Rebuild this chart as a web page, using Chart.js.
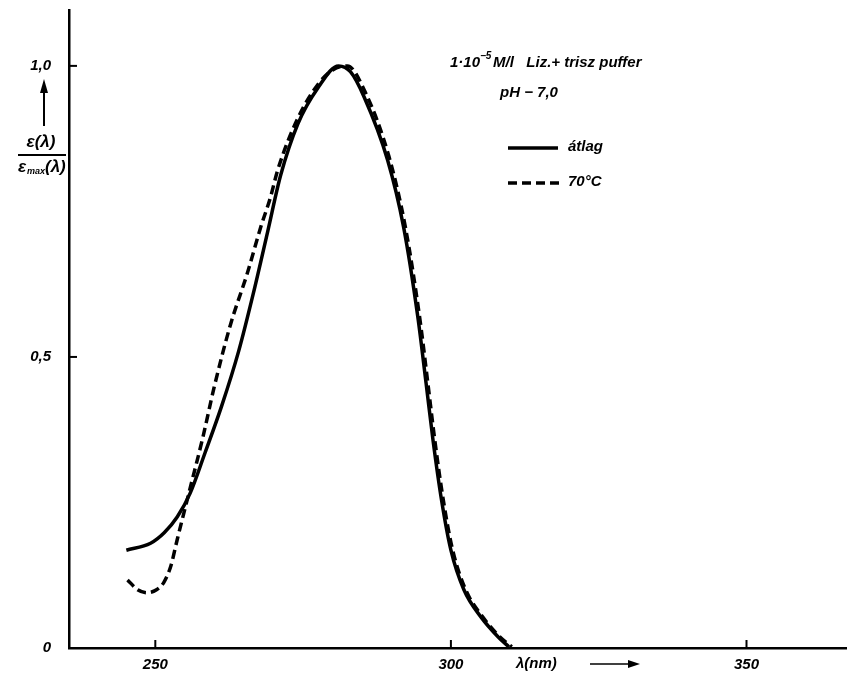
<!DOCTYPE html>
<html>
<head>
<meta charset="utf-8">
<script src="https://cdn.jsdelivr.net/npm/chart.js@4.4.1/dist/chart.umd.min.js"></script>
<style>
  html, body { margin: 0; padding: 0; background: #fff; }
  #wrap { width: 847px; height: 684px; }
</style>
</head>
<body>
<div id="wrap"><canvas id="spectrum"></canvas></div>
<script>
// átlag (solid)
const avgWavelengths = [245.1, 249.2, 251.5, 253.7, 255.9, 258.4, 261.2, 264.1, 266.6, 269.0, 271.2, 274.1, 277.5, 281.0, 283.0, 285.3, 289.3, 292.0, 294.4, 295.8, 297.0, 298.4, 300.0, 302.2, 305.1, 308.0, 309.8];
const avgValues = [0.168, 0.180, 0.198, 0.225, 0.266, 0.335, 0.415, 0.510, 0.610, 0.715, 0.812, 0.900, 0.962, 1.000, 0.990, 0.947, 0.838, 0.723, 0.569, 0.455, 0.355, 0.255, 0.168, 0.100, 0.053, 0.019, 0.002];

// 70 °C (dashed)
const hotWavelengths = [245.3, 247.0, 248.6, 250.2, 251.4, 252.6, 253.7, 255.9, 258.0, 260.0, 262.7, 265.6, 267.8, 269.5, 270.7, 274.1, 277.5, 280.0, 282.5, 285.5, 289.5, 292.3, 294.7, 296.1, 297.3, 298.7, 300.3, 302.5, 305.4, 308.3, 310.3];
const hotValues = [0.117, 0.100, 0.095, 0.100, 0.112, 0.140, 0.186, 0.275, 0.360, 0.450, 0.555, 0.645, 0.722, 0.775, 0.821, 0.910, 0.968, 0.993, 1.000, 0.955, 0.845, 0.723, 0.569, 0.455, 0.355, 0.255, 0.168, 0.100, 0.053, 0.019, 0.002];

const xTicks = [250, 300, 350];
const yTicks = [0, 0.5, 1.0];
const yTickLabels = ['0', '0,5', '1,0'];

const FONT = 'italic bold 15px "Liberation Sans", "DejaVu Sans", sans-serif';

function toPoints(xs, ys) {
  return xs.map((x, i) => ({ x: x, y: ys[i] }));
}

const decorations = {
  id: 'decorations',
  afterDraw(chart) {
    const ctx = chart.ctx;
    const xs = chart.scales.x;
    const ys = chart.scales.y;
    ctx.save();
    ctx.strokeStyle = '#000';
    ctx.fillStyle = '#000';

    // inward tick marks
    ctx.lineWidth = 2;
    xTicks.forEach((t) => {
      const px = xs.getPixelForValue(t);
      ctx.beginPath();
      ctx.moveTo(px, ys.bottom);
      ctx.lineTo(px, ys.bottom - 8);
      ctx.stroke();
    });
    yTicks.forEach((t) => {
      const py = ys.getPixelForValue(t);
      ctx.beginPath();
      ctx.moveTo(xs.left, py);
      ctx.lineTo(xs.left + 8, py);
      ctx.stroke();
    });

    // annotation text
    ctx.font = FONT;
    ctx.textBaseline = 'middle';
    ctx.textAlign = 'left';
    ctx.fillText('1·10', 450, 63);
    ctx.font = 'italic bold 10px "Liberation Sans", sans-serif';
    ctx.fillText('−5', 480, 56);
    ctx.font = FONT;
    ctx.fillText('M/l   Liz.+ trisz puffer', 493, 63);
    ctx.fillText('pH − 7,0', 500, 93);

    // legend
    ctx.lineWidth = 3.5;
    ctx.setLineDash([]);
    ctx.beginPath();
    ctx.moveTo(508, 148);
    ctx.lineTo(558, 148);
    ctx.stroke();
    ctx.setLineDash([9, 5]);
    ctx.beginPath();
    ctx.moveTo(508, 183);
    ctx.lineTo(560, 183);
    ctx.stroke();
    ctx.setLineDash([]);
    ctx.fillText('átlag', 568, 147);
    ctx.fillText('70°C', 568, 182);

    // y-axis title with arrow
    ctx.lineWidth = 2;
    ctx.beginPath();
    ctx.moveTo(44, 126);
    ctx.lineTo(44, 90);
    ctx.stroke();
    ctx.beginPath();
    ctx.moveTo(44, 79);
    ctx.lineTo(40, 93);
    ctx.lineTo(48, 93);
    ctx.closePath();
    ctx.fill();
    ctx.textAlign = 'center';
    ctx.font = 'italic bold 17px "Liberation Sans", sans-serif';
    ctx.fillText('ε(λ)', 41, 142);
    ctx.beginPath();
    ctx.moveTo(18, 155);
    ctx.lineTo(66, 155);
    ctx.stroke();
    ctx.textAlign = 'left';
    ctx.fillText('ε', 18, 167);
    ctx.font = 'italic bold 9px "Liberation Sans", sans-serif';
    ctx.fillText('max', 27, 172);
    ctx.font = 'italic bold 17px "Liberation Sans", sans-serif';
    ctx.fillText('(λ)', 45, 167);

    // x-axis title with arrow
    ctx.font = FONT;
    ctx.fillText('λ(nm)', 516, 664);
    ctx.lineWidth = 1.5;
    ctx.beginPath();
    ctx.moveTo(590, 664);
    ctx.lineTo(632, 664);
    ctx.stroke();
    ctx.beginPath();
    ctx.moveTo(640, 664);
    ctx.lineTo(628, 660);
    ctx.lineTo(628, 668);
    ctx.closePath();
    ctx.fill();
    ctx.restore();
  },
};

const chart = new Chart(document.getElementById('spectrum'), {
  type: 'line',
  data: {
    datasets: [
      {
        label: 'átlag',
        data: toPoints(avgWavelengths, avgValues),
        borderColor: '#000',
        borderWidth: 3.5,
        pointRadius: 0,
        cubicInterpolationMode: 'monotone',
        fill: false,
      },
      {
        label: '70°C',
        data: toPoints(hotWavelengths, hotValues),
        borderColor: '#000',
        borderWidth: 3.5,
        borderDash: [9, 5],
        pointRadius: 0,
        cubicInterpolationMode: 'monotone',
        fill: false,
      },
    ],
  },
  options: {
    responsive: true,
    maintainAspectRatio: false,
    animation: false,
    layout: { padding: { top: 10, right: 0, left: 0, bottom: 0 } },
    plugins: {
      legend: { display: false },
      tooltip: { enabled: false },
    },
    scales: {
      x: {
        type: 'linear',
        min: 235.4,
        max: 367,
        afterBuildTicks(scale) {
          scale.ticks = xTicks.map((v) => ({ value: v }));
        },
        afterFit(scale) {
          scale.height = 36;
          scale.paddingLeft = 0;
          scale.paddingRight = 0;
        },
        grid: { display: false, drawTicks: false },
        border: { display: true, color: '#000', width: 2.5 },
        ticks: {
          color: '#000',
          padding: 8,
          font: { family: '"Liberation Sans", sans-serif', size: 15, style: 'italic', weight: 'bold' },
          callback: (v) => String(v),
        },
      },
      y: {
        type: 'linear',
        min: 0,
        max: 1.096,
        afterBuildTicks(scale) {
          scale.ticks = yTicks.map((v) => ({ value: v }));
        },
        afterFit(scale) {
          scale.width = 69;
          scale.paddingTop = 0;
          scale.paddingBottom = 0;
        },
        grid: { display: false, drawTicks: false },
        border: { display: true, color: '#000', width: 2.5 },
        ticks: {
          color: '#000',
          padding: 18,
          font: { family: '"Liberation Sans", sans-serif', size: 15, style: 'italic', weight: 'bold' },
          callback: (v) => yTickLabels[yTicks.indexOf(v)],
        },
      },
    },
  },
  plugins: [decorations],
});
</script>
</body>
</html>
